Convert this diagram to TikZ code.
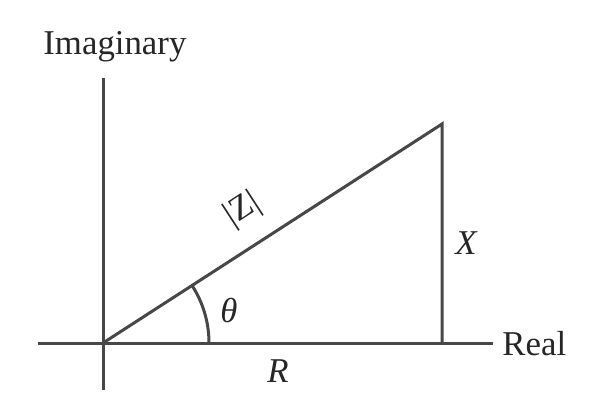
\documentclass[tikz,border=0pt]{standalone}
\usepackage{fontspec}
\setmainfont{LiberationSerif}[Extension=.ttf,UprightFont=*-Regular,ItalicFont=*-Italic,BoldFont=*-Bold]
\begin{document}
\begin{tikzpicture}[x=0.5pt,y=-0.5pt,
  ax/.style={line width=1.5pt,draw=black!72},
  lbl/.style={inner sep=0pt,font=\fontsize{17.4pt}{20pt}\selectfont,text=black!85}]
\useasboundingbox (0,0) rectangle (595,401);
\coordinate (O) at (103,343);
\coordinate (vtop) at (103,78);
\coordinate (vbot) at (103,390);
\coordinate (hleft) at (38,343);
\coordinate (hright) at (493,343);
\coordinate (P) at (442,124);
\coordinate (F) at (442,343);
\draw[ax] (vtop) -- (vbot);
\draw[ax] (hleft) -- (hright);
\draw[ax] (O) -- (P) -- (F);
\draw[ax] (209,343) arc[start angle=0,end angle=-33,radius=106];
\node[lbl,anchor=base west] (imag) at (43,55) {Imaginary};
\node[lbl,anchor=base west] (real) at (502,355) {Real};
\node[lbl] (theta) at (229,311) {\itshape θ};
\node[lbl] (R) at (278,371) {\itshape R};
\node[lbl] (X) at (466,243) {\itshape X};
\node[lbl,rotate=33] (Z) at (243,210) {|Z|};
\end{tikzpicture}
\end{document}
